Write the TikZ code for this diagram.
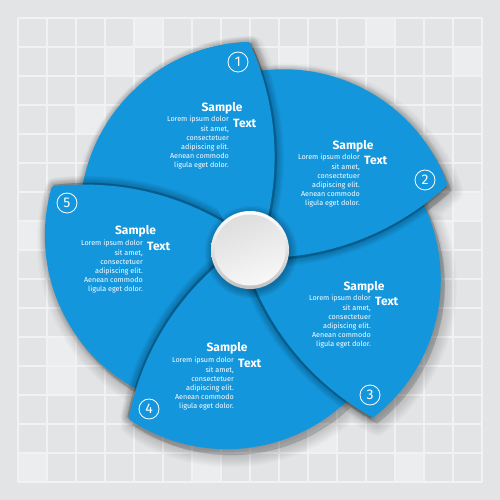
\documentclass[tikz,border=0pt]{standalone}
\usepackage{fontspec}
\setmainfont{Fira Sans}
\usetikzlibrary{calc}
\definecolor{petalblue}{RGB}{20,150,220}
\definecolor{bggrey}{RGB}{227,228,230}
\definecolor{gridline}{RGB}{242,242,244}
\definecolor{lightcell}{RGB}{236,237,239}

% petal outline, rotated by angle #1 about the centre
\newcommand\petalpath[1]{(#1+0.7:8.2) arc[start angle=#1-20, end angle=#1+25.05, radius=271.6] arc[start angle=#1+91.65, end angle=#1+200, radius=174.07] -- (0,0) -- cycle}
\newcommand\petalshadow[1]{%
  \foreach \w in {1,...,7}{%
    \filldraw[black, opacity=0.03, line width=\w*2pt, line join=round, shift={(#1-27:2.5)}] \petalpath{#1};
  }}
\newcommand\petal[1]{\petalshadow{#1}\fill[petalblue] \petalpath{#1};}
\newcommand\bodytext{Lorem ipsum dolor\\sit amet,\\consectetuer\\adipiscing elit.\\Aenean commodo\\ligula eget dolor.}

\tikzset{
  samp/.style={font=\bfseries\fontsize{12}{12}\selectfont, text=white, inner sep=0pt},
  txt/.style={font=\bfseries\fontsize{12}{12}\selectfont, text=white, inner sep=0pt, anchor=west},
  body/.style={font=\fontsize{7.2}{9.2}\selectfont, text=white, align=right, inner sep=0pt, anchor=north east},
  num/.style={circle, draw=white, line width=0.8pt, minimum size=20pt, inner sep=0pt, text=white, font=\fontsize{14}{14}\selectfont},
  cell/.style={fill=lightcell}
}

\begin{document}
\begin{tikzpicture}[x=1pt,y=1pt]
\useasboundingbox (-250,-250) rectangle (250,250);
\fill[bggrey] (-250,-250) rectangle (250,250);
% lighter tiles
\foreach \i/\j in {3/1,2/3,0/7,1/11,1/12,0/15,9/1,12/0,15/1,14/7,15/6,13/15,4/0,10/14,6/15}{
  \fill[cell] (-232+29*\i,232-29*\j) rectangle (-232+29*\i+29,232-29*\j-29);
}
% grid
\foreach \k in {0,...,16}{
  \draw[gridline, line width=1.2pt] (-232+29*\k,-232) -- (-232+29*\k,232);
  \draw[gridline, line width=1.2pt] (-232,-232+29*\k) -- (232,-232+29*\k);
}
% soft shadow of the whole flower on the background
\foreach \w in {1,...,8}{
  \filldraw[black, opacity=0.018, line width=\w*3pt, line join=round, shift={(4,-6)}]
    \petalpath{0} \petalpath{-72} \petalpath{-144} \petalpath{-216} \petalpath{72};
}
% petals (cyclic overlap)
\petal{0}
\petal{72}
\petal{-216}
\petal{-144}
\petal{-72}
% petal 1 lies over petal 2: its shadow on petal 2, then its fill again
\begin{scope}
  \clip \petalpath{-72};
  \petalshadow{0}
\end{scope}
\begin{scope}
  \clip (0,-15) -- (-125,200) -- (-125,260) -- (260,260) -- (260,-15) -- cycle;
  \fill[petalblue] \petalpath{0};
\end{scope}
% centre disc
\foreach \w in {1,...,6}{
  \fill[black, opacity=0.045] (1,-2) circle (38.5+\w*1.3);
}
\shade[top color=white, bottom color=black!24] (0,0) circle (39);
\shade[top color=black!13, bottom color=black!3, shading angle=20] (0,0) circle (35.5);
\node (c0) at (0,0) {};
% texts
\node[samp] (s1) at (-28,142) {Sample};
\node[txt]  (t1) at (-17,127) {Text};
\node[body] (b1) at (-21,134) {\bodytext};
\node[samp] (s2) at (103,104) {Sample};
\node[txt]  (t2) at (114,90) {Text};
\node[body] (b2) at (110,96) {\bodytext};
\node[samp] (s3) at (114,-37) {Sample};
\node[txt]  (t3) at (125,-51) {Text};
\node[body] (b3) at (121,-45) {\bodytext};
\node[samp] (s4) at (-23,-98) {Sample};
\node[txt]  (t4) at (-12,-113) {Text};
\node[body] (b4) at (-16,-107) {\bodytext};
\node[samp] (s5) at (-114.5,19) {Sample};
\node[txt]  (t5) at (-103,4) {Text};
\node[body] (b5) at (-107,10) {\bodytext};
% numbers
\node[num] (n1) at (-12,188) {1};
\node[num] (n2) at (175,70) {2};
\node[num] (n3) at (120,-145) {3};
\node[num] (n4) at (-101,-159) {4};
\node[num] (n5) at (-183,47) {5};
\end{tikzpicture}
\end{document}
